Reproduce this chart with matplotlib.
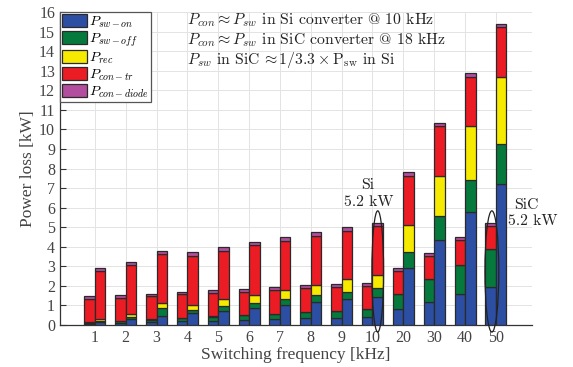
import numpy as np
import matplotlib
matplotlib.use("Agg")
import matplotlib.pyplot as plt
from matplotlib.patches import Ellipse, Patch

plt.rcParams['mathtext.fontset'] = 'cm'

freq_labels = ['1', '2', '3', '4', '5', '6', '7', '8', '9', '10', '20', '30', '40', '50']

# SiC converter (left bar of each group)
sic_sw_on = [0.05, 0.08, 0.15, 0.20, 0.22, 0.25, 0.31, 0.36, 0.38, 0.43, 0.80, 1.19, 1.57, 1.96]
sic_sw_off = [0.06, 0.13, 0.13, 0.14, 0.20, 0.24, 0.25, 0.29, 0.32, 0.37, 0.79, 1.15, 1.50, 1.91]
sic_rec = [0.02, 0.02, 0.02, 0.02, 0.02, 0.02, 0.02, 0.02, 0.02, 0.02, 0.02, 0.02, 0.02, 0.02]
sic_con_tr = [1.19, 1.15, 1.18, 1.21, 1.19, 1.19, 1.22, 1.21, 1.22, 1.19, 1.17, 1.19, 1.26, 1.19]
sic_con_diode = [0.14, 0.13, 0.13, 0.13, 0.14, 0.15, 0.14, 0.15, 0.15, 0.16, 0.15, 0.14, 0.14, 0.14]

# Si converter (right bar of each group)
si_sw_on = [0.14, 0.30, 0.45, 0.60, 0.73, 0.87, 1.04, 1.16, 1.31, 1.45, 2.90, 4.35, 5.76, 7.20]
si_sw_off = [0.08, 0.13, 0.44, 0.18, 0.22, 0.27, 0.27, 0.35, 0.36, 0.42, 0.82, 1.21, 1.66, 2.04]
si_rec = [0.08, 0.12, 0.22, 0.26, 0.36, 0.41, 0.50, 0.55, 0.67, 0.69, 1.38, 2.08, 2.76, 3.46]
si_con_tr = [2.48, 2.52, 2.50, 2.51, 2.49, 2.53, 2.50, 2.51, 2.47, 2.50, 2.52, 2.54, 2.52, 2.53]
si_con_diode = [0.15, 0.14, 0.16, 0.16, 0.17, 0.15, 0.17, 0.19, 0.20, 0.17, 0.19, 0.17, 0.17, 0.15]

legend_labels = [r'$P_{sw-on}$', r'$P_{sw-off}$', r'$P_{rec}$', r'$P_{con-tr}$', r'$P_{con-diode}$']
colors = ['#2c4fa3', '#067a3c', '#f6ea00', '#ec1c24', '#b34d9e']
edge = '#2a2a2a'

fig = plt.figure(figsize=(5.73, 3.67), dpi=100)
ax = fig.add_axes([0.1047, 0.1144, 0.8237, 0.8524])

x = np.arange(1, len(freq_labels) + 1)
w = 0.34

def stack(xpos, comps):
    bottom = np.zeros(len(xpos))
    for vals, c in zip(comps, colors):
        vals = np.asarray(vals)
        ax.bar(xpos, vals, width=w, bottom=bottom, color=c, edgecolor=edge,
               linewidth=0.9, zorder=3)
        bottom = bottom + vals

stack(x - w / 2, [sic_sw_on, sic_sw_off, sic_rec, sic_con_tr, sic_con_diode])
stack(x + w / 2, [si_sw_on, si_sw_off, si_rec, si_con_tr, si_con_diode])

ax.set_xlim(-0.13, 15.17)
ax.set_ylim(0, 16)
ax.set_xticks(x)
ax.set_xticklabels(freq_labels)
ax.set_yticks(np.arange(0, 17, 1))
ax.grid(True, color='#e3e3e3', linewidth=0.7, zorder=0)
ax.set_axisbelow(True)
for s in ['top', 'right']:
    ax.spines[s].set_visible(False)
for s in ['left', 'bottom']:
    ax.spines[s].set_color('#333333')
    ax.spines[s].set_linewidth(0.9)
ax.tick_params(direction='in', length=4, width=0.8, colors='#333333', labelcolor='#444444',
               labelsize=11.5)
for lab in ax.get_xticklabels() + ax.get_yticklabels():
    lab.set_family('Liberation Serif')
ax.set_xlabel('Switching frequency [kHz]', family='Liberation Serif', fontsize=12.5,
              color='#444444', labelpad=1)
ax.set_ylabel('Power loss [kW]', family='Liberation Serif', fontsize=12.5,
              color='#444444', labelpad=2)

handles = [Patch(facecolor=c, edgecolor=edge, linewidth=0.9) for c in colors]
leg = ax.legend(handles, legend_labels, loc='upper left', bbox_to_anchor=(0, 1),
                borderaxespad=0, fontsize=10.2, handlelength=1.75, handleheight=1.0,
                handletextpad=0.12, labelspacing=0.1, borderpad=0.15,
                fancybox=False, framealpha=1, edgecolor='#555555')
leg.get_frame().set_linewidth(0.9)
leg.set_zorder(6)

tfont = dict(family=['cmr10', 'DejaVu Serif'], fontsize=11.3, color='#222222', zorder=7)
ax.text(4.0, 15.6, r'$P_{con} \approx P_{sw}$ in Si converter @ 10 kHz', va='center', **tfont)
ax.text(4.0, 14.58, r'$P_{con} \approx P_{sw}$ in SiC converter @ 18 kHz', va='center', **tfont)
ax.text(4.0, 13.55, r'$P_{sw}$ in SiC$\,\approx 1/3.3 \times \mathrm{P}_{\mathrm{sw}}$ in Si',
        va='center', **tfont)

ax.text(9.85, 7.15, 'Si', ha='center', va='center', **tfont)
ax.text(9.87, 6.3, '5.2 kW', ha='center', va='center', **tfont)
ax.text(15.0, 6.15, 'SiC', ha='center', va='center', clip_on=False, **tfont)
ax.text(15.2, 5.3, '5.2 kW', ha='center', va='center', clip_on=False, **tfont)

for (cx, ew) in [(10 + w / 2, 0.38), (14 - w / 2 + 0.04, 0.45)]:
    e = Ellipse((cx, 2.74), ew, 6.2, fill=False, edgecolor='#222222', linewidth=0.9,
                zorder=5, clip_on=False)
    ax.add_patch(e)

fig.savefig('out.png', dpi=100)
